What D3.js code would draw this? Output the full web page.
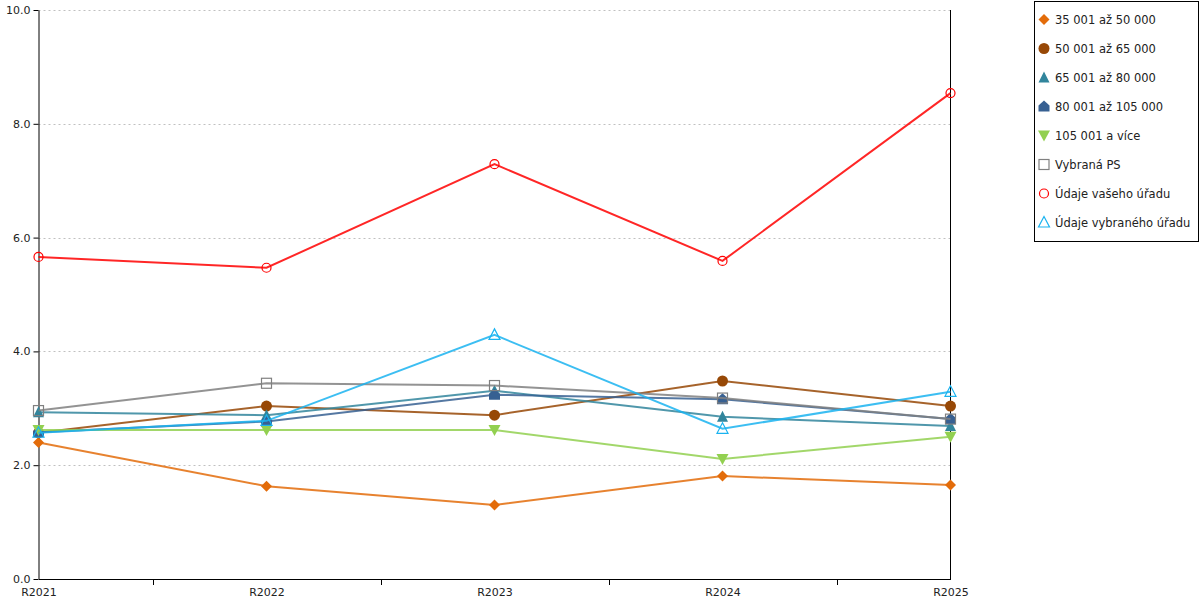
<!DOCTYPE html>
<html><head><meta charset="utf-8">
<script src="https://cdn.jsdelivr.net/npm/d3@7/dist/d3.min.js"></script>
<style>body{margin:0;background:#fff;font-family:"DejaVu Sans",Verdana,sans-serif;}</style>
</head><body>
<svg id="c" width="1200" height="600"></svg>
<script>
const categories = ["R2021","R2022","R2023","R2024","R2025"];
const yTicks = [0,2,4,6,8,10];
const seriesNames = ["35 001 až 50 000","50 001 až 65 000","65 001 až 80 000","80 001 až 105 000","105 001 a více","Vybraná PS","Údaje vašeho úřadu","Údaje vybraného úřadu"];
const s1 = [2.40,1.63,1.30,1.81,1.65];
const s2 = [2.57,3.04,2.88,3.48,3.04];
const s3 = [2.93,2.88,3.31,2.85,2.69];
const s4 = [2.58,2.77,3.24,3.16,2.81];
const s5 = [2.62,2.62,2.62,2.11,2.50];
const s6 = [2.96,3.44,3.40,3.18,2.81];
const s7 = [5.66,5.47,7.29,5.59,8.54];
const s8 = [2.57,2.78,4.29,2.64,3.29];
const seriesValues = [s1,s2,s3,s4,s5,s6,s7,s8];
const colors = ["#e36c0a","#974806","#31859c","#376092","#92d050","#808080","#ff0000","#1ab3f0"];
const markers = ["diamond","circle","triangle","pent","tridown","square","ocircle","otriangle"];

const svg = d3.select("#c");
const L=38.5, R=950.5, T=10, B=579;
const x = d3.scalePoint().domain(categories).range([L,R]);
const y = d3.scaleLinear().domain([0,10]).range([B,T]);

// grid
svg.append("g").selectAll("line").data(yTicks.filter(d=>d>0)).join("line")
  .attr("x1",L).attr("x2",R).attr("y1",d=>Math.round(y(d))+0.5).attr("y2",d=>Math.round(y(d))+0.5)
  .attr("stroke","#c0c0c0").attr("stroke-dasharray","2,3").attr("stroke-width",1);

// y axis
const ya = svg.append("g").attr("transform",`translate(${L},0)`)
  .call(d3.axisLeft(y).tickValues(yTicks).tickFormat(d3.format(".1f")).tickSize(5).tickSizeOuter(0));
ya.select(".domain").attr("stroke","#000");
ya.selectAll("text").attr("font-family","DejaVu Sans, Verdana, sans-serif").attr("font-size",11).attr("fill","#222");

// x axis
const xa = svg.append("g").attr("transform",`translate(0,${B})`)
  .call(d3.axisBottom(x).tickSize(0).tickPadding(9));
xa.select(".domain").attr("stroke","#000");
xa.selectAll("text").attr("font-family","DejaVu Sans, Verdana, sans-serif").attr("font-size",11).attr("fill","#222");
const step = x.step();
svg.append("g").selectAll("line").data(categories.slice(0,-1)).join("line")
  .attr("x1",d=>Math.round(x(d)+step/2)+0.5).attr("x2",d=>Math.round(x(d)+step/2)+0.5)
  .attr("y1",B).attr("y2",B+6).attr("stroke","#000");
// right border line
svg.append("line").attr("x1",R).attr("x2",R).attr("y1",T).attr("y2",B).attr("stroke","#000");

function marker(g, type, color, cx, cy){
  if(type==="diamond") g.append("path").attr("d",`M${cx},${cy-5.5}L${cx+5.5},${cy}L${cx},${cy+5.5}L${cx-5.5},${cy}Z`).attr("fill",color);
  else if(type==="circle") g.append("circle").attr("cx",cx).attr("cy",cy).attr("r",5.5).attr("fill",color);
  else if(type==="triangle") g.append("path").attr("d",`M${cx},${cy-6}L${cx+5.5},${cy+5}L${cx-5.5},${cy+5}Z`).attr("fill",color);
  else if(type==="pent") g.append("path").attr("d",`M${cx},${cy-6}L${cx+5.5},${cy-1}L${cx+5.5},${cy+5}L${cx-5.5},${cy+5}L${cx-5.5},${cy-1}Z`).attr("fill",color);
  else if(type==="tridown") g.append("path").attr("d",`M${cx-6},${cy-5}L${cx+6},${cy-5}L${cx},${cy+6}Z`).attr("fill",color);
  else if(type==="square") g.append("rect").attr("x",cx-5).attr("y",cy-5).attr("width",10).attr("height",10).attr("fill","none").attr("stroke",color).attr("stroke-width",1.2);
  else if(type==="ocircle") g.append("circle").attr("cx",cx).attr("cy",cy).attr("r",4.5).attr("fill","none").attr("stroke",color).attr("stroke-width",1.2);
  else if(type==="otriangle") g.append("path").attr("d",`M${cx},${cy-6}L${cx+5.5},${cy+4.5}L${cx-5.5},${cy+4.5}Z`).attr("fill","none").attr("stroke",color).attr("stroke-width",1.2);
}

const line = d3.line().x((d,i)=>x(categories[i])).y(d=>y(d));
seriesValues.forEach((vals,si)=>{
  const g = svg.append("g");
  g.append("path").attr("d",line(vals)).attr("fill","none").attr("stroke",colors[si])
    .attr("stroke-width",2).attr("stroke-opacity",0.85);
  vals.forEach((v,i)=>marker(g,markers[si],colors[si],x(categories[i]),y(v)));
});

// legend
const lg = svg.append("g");
lg.append("rect").attr("x",1034.5).attr("y",1.5).attr("width",164).attr("height",240).attr("fill","#fff").attr("stroke","#000");
seriesNames.forEach((n,i)=>{
  const cy = 19.5 + i*29;
  marker(lg, markers[i], colors[i], 1044, cy);
  lg.append("text").attr("x",1055).attr("y",cy+4).text(n)
    .attr("font-family","DejaVu Sans, Verdana, sans-serif").attr("font-size",11.5).attr("fill","#222");
});
</script>
</body></html>
